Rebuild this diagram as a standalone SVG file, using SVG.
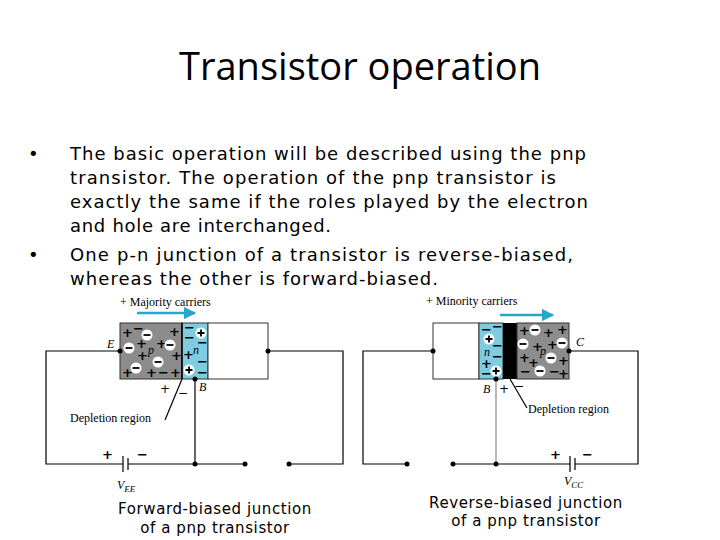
<svg xmlns="http://www.w3.org/2000/svg" width="720" height="540" viewBox="0 0 720 540">
<style>
.t{font-family:"DejaVu Sans",sans-serif;font-size:18px;fill:#000}
.s{font-family:"Liberation Serif",serif;font-size:12px;fill:#000}
.si{font-family:"Liberation Serif",serif;font-size:12px;font-style:italic;fill:#000}
.w{fill:none;stroke:#000;stroke-width:1.2}
.g{stroke:#888;stroke-width:1.2;fill:none}
.pl{font-family:"DejaVu Sans",sans-serif;font-size:13px;font-weight:bold;fill:#000}
.c{font-family:"DejaVu Sans",sans-serif;font-size:12px;fill:#000}
.cap{font-family:"DejaVu Sans",sans-serif;font-size:15px;fill:#000;letter-spacing:0.6px}
</style>
<defs>
<marker id="ar" viewBox="0 0 10 10" refX="9" refY="5" markerWidth="5" markerHeight="5" orient="auto"><path d="M0 0L10 5L0 10z" fill="#2aa6c8"/></marker>
<g id="hole"><circle r="5.5" fill="#fff"/><path d="M-3.5 0H3.5" stroke="#000" stroke-width="1.8"/></g>
<g id="elec"><circle r="5.5" fill="#fff"/><path d="M-3.5 0H3.5M0 -3.5V3.5" stroke="#000" stroke-width="1.8"/></g>
</defs>
<text x="360" y="80" text-anchor="middle" font-family="Open Sans,sans-serif" font-size="38" fill="#000">Transistor operation</text>
<g id="bullets" class="t">
<text x="28" y="160">•</text>
<text x="70" y="160" textLength="516" lengthAdjust="spacing">The basic operation will be described using the pnp</text>
<text x="70" y="184" textLength="486" lengthAdjust="spacing">transistor. The operation of the pnp transistor is</text>
<text x="70" y="208" textLength="518" lengthAdjust="spacing">exactly the same if the roles played by the electron</text>
<text x="70" y="232" textLength="261" lengthAdjust="spacing">and hole are interchanged.</text>
<text x="28" y="261">•</text>
<text x="70" y="261" textLength="503" lengthAdjust="spacing">One p-n junction of a transistor is reverse-biased,</text>
<text x="70" y="285" textLength="368" lengthAdjust="spacing">whereas the other is forward-biased.</text>
</g>
<g id="connectors">
<path class="w" d="M120 351H46V464H123M128 464H195M195 379V464M195 464H245M289 464H343V351H268"/>
<path class="w" d="M123 456V472M128 458V470" stroke-width="2"/>
<path class="w" d="M182 379L165 420"/>
<line x1="137" y1="313" x2="195" y2="313" stroke="#2aa6c8" stroke-width="2.5" marker-end="url(#ar)"/>
<path class="w" d="M433 351H363V464H407M453 464H570M575 464H638V351H569"/>
<path class="g" d="M496 379V464"/>
<path class="w" d="M570 456V472M575 458V470" stroke-width="2"/>
<path class="w" d="M510 379L527 408"/>
<line x1="500" y1="315" x2="553" y2="315" stroke="#2aa6c8" stroke-width="2.5" marker-end="url(#ar)"/>
</g>
<g id="left-transistor">
<rect x="120" y="323" width="62" height="56" fill="#8c8c8c" stroke="#333"/>
<rect x="182" y="323" width="26" height="56" fill="#7fcbe0" stroke="#333"/>
<rect x="208" y="323" width="60" height="56" fill="#fff" stroke="#333"/>
<line x1="182" y1="323" x2="182" y2="379" stroke="#000" stroke-width="1.5"/>
<g class="pl"><text x="122" y="337">+</text><text x="133" y="333">−</text><text x="136" y="348">+</text><text x="156" y="348">+</text><text x="169" y="336">+</text><text x="137" y="360">+</text><text x="171" y="360">+</text><text x="122" y="377">+</text><text x="146" y="377">+</text><text x="158" y="377">−</text><text x="170" y="377">+</text>
<text x="184" y="332">−</text><text x="184" y="342">−</text><text x="197" y="347">−</text><text x="183" y="359">+</text><text x="197" y="366">−</text><text x="197" y="377">−</text></g>
<use href="#hole" x="147" y="335"/><use href="#hole" x="129" y="348"/><use href="#hole" x="170" y="345"/><use href="#hole" x="158" y="362"/><use href="#hole" x="136" y="368"/><use href="#elec" x="201" y="333"/><use href="#elec" x="189" y="370"/>
<text x="148" y="354" class="si">p</text><text x="193" y="354" class="si">n</text>
<circle cx="120" cy="351" r="2.5"/><circle cx="268" cy="351" r="2.5"/><circle cx="195" cy="379" r="2.5"/><circle cx="195" cy="464" r="2.5"/><circle cx="245" cy="464" r="2.5"/><circle cx="289" cy="464" r="2.5"/>
<text x="107" y="348" class="si">E</text><text x="199" y="391" class="si">B</text>
<text x="160" y="393" class="c">+</text><text x="178" y="397" class="c">−</text>
<text x="70" y="422" class="s">Depletion region</text>
<text x="102" y="459" class="pl">+</text><text x="137" y="459" class="pl">−</text>
<text x="117" y="489" class="si">V<tspan font-size="9" dy="3">EE</tspan></text>
<text x="120" y="306" class="s">+ Majority carriers</text>
</g>
<g id="right-transistor">
<rect x="433" y="323" width="46" height="56" fill="#fff" stroke="#333"/>
<rect x="479" y="323" width="24" height="56" fill="#7fcbe0" stroke="#333"/>
<rect x="503" y="323" width="14" height="56" fill="#000"/>
<rect x="517" y="323" width="52" height="56" fill="#8c8c8c" stroke="#333"/>
<g class="pl"><text x="481" y="334">−</text><text x="492" y="331">−</text><text x="492" y="350">−</text><text x="481" y="368">+</text><text x="492" y="361">−</text><text x="481" y="378">−</text>
<text x="519" y="335">+</text><text x="543" y="337">+</text><text x="557" y="334">+</text><text x="532" y="351">+</text><text x="547" y="349">+</text><text x="519" y="362">+</text><text x="528" y="367">+</text><text x="558" y="365">+</text><text x="520" y="376">−</text><text x="549" y="376">−</text><text x="558" y="378">+</text></g>
<use href="#elec" x="489" y="339"/><use href="#elec" x="496" y="371"/>
<use href="#hole" x="535" y="330"/><use href="#hole" x="523" y="344"/><use href="#hole" x="562" y="343"/><use href="#hole" x="551" y="358"/><use href="#hole" x="540" y="371"/>
<text x="484" y="356" class="si">n</text><text x="540" y="355" class="si">p</text>
<circle cx="433" cy="351" r="2.5"/><circle cx="569" cy="351" r="2.5"/><circle cx="496" cy="379" r="2.5"/><circle cx="496" cy="464" r="2.5"/><circle cx="407" cy="464" r="2.5"/><circle cx="453" cy="464" r="2.5"/>
<text x="576" y="346" class="si">C</text><text x="483" y="393" class="si">B</text>
<text x="499" y="393" class="c">+</text><text x="514" y="390" class="c">−</text>
<text x="528" y="413" class="s">Depletion region</text>
<text x="550" y="459" class="pl">+</text><text x="582" y="459" class="pl">−</text>
<text x="564" y="485" class="si">V<tspan font-size="9" dy="3">CC</tspan></text>
<text x="426" y="305" class="s">+ Minority carriers</text>
</g>
<g id="captions" class="cap" text-anchor="middle">
<text x="215" y="514">Forward-biased junction</text>
<text x="215" y="533">of a pnp transistor</text>
<text x="526" y="508">Reverse-biased junction</text>
<text x="526" y="526">of a pnp transistor</text>
</g>
</svg>
